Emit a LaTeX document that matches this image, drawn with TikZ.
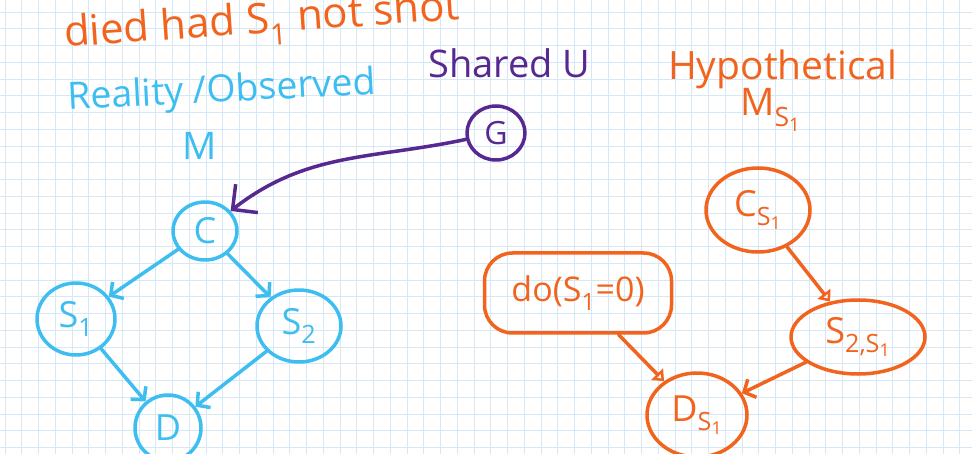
\documentclass[tikz,border=0pt]{standalone}
\usepackage{fontspec}
\setmainfont{Open Sans}
\usetikzlibrary{shapes.geometric,arrows.meta}
\definecolor{cy}{RGB}{62,190,240}
\definecolor{org}{RGB}{242,100,30}
\definecolor{pur}{RGB}{88,40,145}
\definecolor{gridc}{RGB}{214,231,245}
\newcommand{\lsub}[1]{\textsubscript{#1}}
\begin{document}
\begin{tikzpicture}[x=1pt,y=-1pt,
  pen/.style={line width=3.5pt, line cap=round, line join=round},
  fs/.style={font=\fontsize{#1}{#1}\selectfont},
  cnode/.style={ellipse, draw=cy, pen, text=cy, inner sep=0pt, fs=36},
  onode/.style={ellipse, draw=org, pen, text=org, inner sep=0pt, fs=36},
  barb/.style={-{Straight Barb[length=9pt,width=20pt]}},
  bigbarb/.style={-{Straight Barb[length=18pt,width=36pt]}},
  tri/.style={-{Triangle[open,length=10pt,width=16pt]}}
]
\fill[white] (0,0) rectangle (972,454);
\clip (0,0) rectangle (972,454);
\useasboundingbox (0,0) rectangle (972,454);
\foreach \i in {0,...,58} \draw[gridc, line width=0.9pt] (5+16.75*\i,0) -- ++(0,454);
\foreach \j in {0,...,27} \draw[gridc, line width=0.9pt] (0,12+16.75*\j) -- ++(972,0);

% titles
\node[anchor=base west, rotate=4, text=org, fs=42, inner sep=0pt] (title) at (65,47) {died had S\lsub{1} not shot};
\node[anchor=base west, rotate=3, text=cy, fs=37.5, inner sep=0pt] (real) at (68,110) {Reality /Observed};
\node[anchor=base, text=cy, fs=38, inner sep=0pt] (M) at (200,160) {M};
\node[anchor=base west, text=pur, fs=38, inner sep=0pt] (shared) at (428,78) {Shared U};
\node[anchor=base west, text=org, fs=39, inner sep=0pt] (hyp) at (668,80) {Hypothetical};
\node[anchor=base west, text=org, fs=38, inner sep=0pt] (Ms) at (740,116) {M\lsub{S\lsub{1}}};

% left graph
\node[ellipse, draw=pur, pen, text=pur, inner sep=0pt, fs=32, minimum width=58pt, minimum height=54pt] (G) at (496,133) {G};
\node[cnode, minimum width=64pt, minimum height=58pt] (C) at (205,231) {C};
\node[cnode, minimum width=78pt, minimum height=72pt] (S1) at (76,319) {S\lsub{1}};
\node[cnode, minimum width=84pt, minimum height=72pt] (S2) at (299,326) {S\lsub{2}};
\node[cnode, minimum width=66pt, minimum height=66pt] (D) at (168,428) {D};

\draw[pen, pur, bigbarb] (G) to[out=192, in=38] (C);
\draw[pen, cy, barb] (C) -- (S1);
\draw[pen, cy, barb] (C) -- (S2);
\draw[pen, cy, barb] (S1) -- (D);
\draw[pen, cy, barb] (S2) -- (D);

% right graph
\node[onode, minimum width=104pt, minimum height=84pt] (Cs) at (758,210) {C\lsub{S\lsub{1}}};
\node[draw=org, pen, text=org, rounded corners=28pt, inner sep=0pt, fs=34, minimum width=187pt, minimum height=80pt] (do) at (578,293) {do(S\lsub{1}=0)};
\node[onode, minimum width=134pt, minimum height=74pt] (S2s) at (858,337) {S\lsub{2,S\lsub{1}}};
\node[onode, minimum width=100pt, minimum height=84pt] (Ds) at (697,415) {D\lsub{S\lsub{1}}};

\draw[pen, org, tri] (Cs) -- (S2s);
\draw[pen, org, tri] (do) -- (Ds);
\draw[pen, org, barb] (S2s) -- (Ds);
\end{tikzpicture}
\end{document}
